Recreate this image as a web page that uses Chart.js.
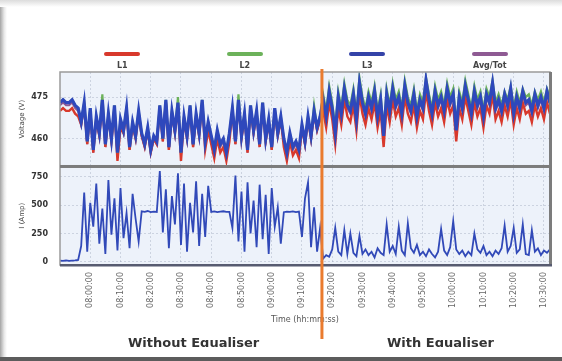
<!DOCTYPE html>
<html>
<head>
<meta charset="utf-8">
<script src="https://cdn.jsdelivr.net/npm/chart.js@4.4.1/dist/chart.umd.min.js"></script>
<style>
  html, body { margin: 0; padding: 0; background: #fff; }
  #wrap { position: relative; width: 562px; height: 361px; overflow: hidden; background: #fff;
          font-family: "DejaVu Sans", "Liberation Sans", sans-serif; }
  #cv { position: absolute; left: 0; top: 0; }
  .edgeTop { position: absolute; left: 0; top: 0; width: 562px; height: 7px;
             background: linear-gradient(#dcdcdc, #fff); }
  .edgeLeft { position: absolute; left: 0; top: 7px; width: 7px; height: 354px;
              background: linear-gradient(90deg, #a4a4a4, #e8e8e8 60%, #fff); }
  .edgeBottom { position: absolute; left: 0; bottom: 0; width: 562px; height: 4px; background: #5c5c5c; }
  #legend { position: absolute; left: 61px; top: 52px; width: 490px; display: flex; }
  .item { flex: 1; display: flex; flex-direction: column; align-items: center; }
  .swatch { width: 36px; height: 4px; border-radius: 2px; }
  .lab { margin-top: 5px; font-size: 8px; font-weight: bold; color: #444; line-height: 9px; }
  .eqClip { position: absolute; top: 335px; height: 12px; overflow: hidden; }
  .eq { font-size: 13px; font-weight: bold; color: #333; white-space: nowrap; line-height: 16px; }
</style>
</head>
<body>
<div id="wrap">
  <canvas id="cv" width="562" height="361"></canvas>
  <div class="edgeTop"></div>
  <div class="edgeLeft"></div>
  <div id="legend"></div>
  <div class="eqClip" style="left:128px;width:140px;"><div class="eq">Without Equaliser</div></div>
  <div class="eqClip" style="left:387px;width:115px;"><div class="eq">With Equaliser</div></div>
  <div class="edgeBottom"></div>
</div>
<script>
// Logging run: one sample per minute from the start time
const startTime = '07:50:00';
const equaliserOn = '09:16:36';

const timeTicks = ['08:00:00','08:10:00','08:20:00','08:30:00','08:40:00','08:50:00','09:00:00','09:10:00',
                   '09:20:00','09:30:00','09:40:00','09:50:00','10:00:00','10:10:00','10:20:00','10:30:00'];
const voltTicks = [460, 475];
const ampTicks = [0, 250, 500, 750];

const seriesNames = ['L1', 'L2', 'L3', 'Avg/Tot'];
const seriesColors = ['#d8392c', '#6cb25a', '#3443a8', '#8e5a93'];

// Phase voltages (V)
const voltL1 = [
  470,471,470,470,471,469,468,
  465,472,458,470,455,467,461,473,457,468,459,471,452,464,462,470,456,465,460,469,
  461,457,463,455,460,458,
  471,459,473,456,469,462,472,452,467,460,471,457,468,461,473,456,463,
  458,453,460,455,457,452,459,
  470,458,473,460,468,455,471,462,469,457,472,459,466,456,470,461,467,
  457,452,459,454,456,453,
  464,458,467,460,469,463,467,
  470,464,473,467,458,471,465,474,468,466,
  472,463,476,469,465,471,467,473,464,470,
  457,472,466,474,468,471,465,475,469,466,
  472,464,470,467,477,470,465,473,468,471,
  466,474,469,472,459,471,467,475,470,465,
  473,468,471,464,472,469,476,467,470,466,
  472,468,474,465,471,467,473,469,470,466,
  472,468,471,467,473,469
];
const voltL2 = [
  473,474,473,473,474,472,471,
  466,473,459,471,456,468,462,476,458,469,460,472,455,467,463,471,457,466,461,470,
  462,458,464,456,461,459,
  472,460,474,457,470,463,475,455,468,461,472,458,469,462,474,459,466,
  461,456,463,458,460,455,462,
  471,459,476,461,469,456,472,463,470,458,473,460,467,457,471,462,468,
  460,455,462,457,459,456,
  465,459,468,461,472,464,468,
  476,470,479,473,464,477,471,480,474,472,
  478,469,482,475,471,477,473,479,470,476,
  463,478,472,480,474,477,471,481,475,472,
  478,470,476,473,482,476,471,479,474,477,
  472,480,475,478,465,477,473,481,476,471,
  479,474,477,470,478,475,481,473,476,472,
  477,474,479,471,477,473,478,475,476,472,
  477,474,477,473,478,475
];
const voltL3 = [
  473,474,473,473,474,472,471,
  466,473,459,471,456,468,462,474,458,469,460,472,455,467,463,471,457,466,461,470,
  462,458,464,456,461,459,
  472,460,474,457,470,463,473,455,468,461,472,458,469,462,474,459,466,
  461,456,463,458,460,455,462,
  471,459,474,461,469,456,472,463,470,458,473,460,467,457,471,462,468,
  460,455,462,457,459,456,
  465,459,468,461,470,464,468,
  474,468,477,471,462,475,469,478,472,470,
  476,467,480,473,469,475,471,477,468,474,
  461,476,470,478,472,475,469,479,473,470,
  476,468,474,471,481,474,469,477,472,475,
  470,478,473,476,463,475,471,479,474,469,
  477,472,475,468,476,473,480,471,474,470,
  476,472,478,469,475,471,477,473,474,470,
  476,472,475,471,477,473
];
const voltAvg = [
  472,473,472,472,473,471,470,
  465,472,458,470,455,467,461,473,457,468,459,471,454,466,462,470,456,465,460,469,
  461,457,463,455,460,458,
  471,459,473,456,469,462,472,454,467,460,471,457,468,461,473,458,465,
  460,455,462,457,459,454,461,
  470,458,473,460,468,455,471,462,469,457,472,459,466,456,470,461,467,
  459,454,461,456,458,455,
  464,458,467,460,469,463,467,
  473,467,476,470,461,474,468,477,471,469,
  475,466,479,472,468,474,470,476,467,473,
  460,475,469,477,471,474,468,478,472,469,
  475,467,473,470,480,473,468,476,471,474,
  469,477,472,475,462,474,470,478,473,468,
  476,471,474,467,475,472,479,470,473,469,
  475,471,477,468,474,470,476,472,473,469,
  475,471,474,470,476,472
];

// Total current (A)
const ampTot = [
  12,10,14,9,11,13,18,
  140,610,90,520,310,690,160,470,70,720,240,560,100,650,210,430,120,600,380,180,
  445,440,448,438,442,440,
  800,260,640,120,580,330,780,150,690,90,520,260,710,140,600,220,670,
  440,444,438,442,446,440,441,
  300,760,180,620,90,700,250,540,130,680,200,590,70,650,310,480,160,
  438,442,440,445,439,443,
  220,560,700,130,480,90,300,
  30,60,45,110,300,90,60,280,70,250,
  80,50,230,70,110,60,90,40,120,80,
  60,330,90,140,70,310,100,60,340,120,
  80,150,60,90,50,110,70,40,90,290,
  100,60,130,360,110,70,100,50,90,60,
  250,110,80,140,60,90,50,100,70,120,
  320,90,140,300,80,110,330,70,60,280,
  90,120,60,100,80,110
];

// ---- helpers ----
const toMinutes = s => { const [h, m, sec] = s.split(':').map(Number); return h * 60 + m + (sec || 0) / 60; };
const pad = n => String(n).padStart(2, '0');
const fmtTime = v => {
  const tot = Math.round(v * 60);
  return pad(Math.floor(tot / 3600)) + ':' + pad(Math.floor(tot / 60) % 60) + ':' + pad(tot % 60);
};
const t0 = toMinutes(startTime);
const asPoints = arr => arr.map((y, i) => ({ x: t0 + i, y }));
const switchMinute = toMinutes(equaliserOn);

// legend
const legendEl = document.getElementById('legend');
seriesNames.forEach((name, i) => {
  const it = document.createElement('div');
  it.className = 'item';
  it.innerHTML = '<div class="swatch" style="background:' + seriesColors[i] + '"></div><div class="lab">' + name + '</div>';
  legendEl.appendChild(it);
});

const panelDecor = {
  id: 'panelDecor',
  beforeDraw(c) {
    const { ctx, chartArea: a } = c;
    ctx.save();
    ctx.fillStyle = '#edf2fa';
    ctx.fillRect(a.left, a.top, a.width, a.height);
    ctx.restore();
  },
  afterDatasetsDraw(c) {
    const { ctx, chartArea: a, scales } = c;
    ctx.save();
    ctx.strokeStyle = '#9a9a9a';
    ctx.lineWidth = 1.5;
    ctx.strokeRect(a.left, a.top, a.width, a.height);
    ctx.fillStyle = '#7c7c7c';
    ctx.fillRect(a.left, scales.yV.bottom - 1.5, a.width, 3);
    ctx.fillRect(a.right - 1, a.top, 3, a.height);
    ctx.fillStyle = '#575b70';
    ctx.fillRect(a.left, a.bottom - 1, a.width + 2, 2.5);
    const x = scales.x.getPixelForValue(switchMinute);
    ctx.fillStyle = '#ea7b2e';
    ctx.fillRect(x - 1.5, a.top - 3, 3, 342 - a.top);
    ctx.restore();
  }
};

const gridStyle = { color: 'rgba(130,140,165,0.3)', lineWidth: 1, drawTicks: false };
const dashed = { border: { display: false, dash: [2, 2] } };

new Chart(document.getElementById('cv'), {
  type: 'line',
  data: {
    datasets: [
      { label: 'Tot', data: asPoints(ampTot), yAxisID: 'yI', borderColor: '#3149b8', borderWidth: 1.8, order: 1 },
      { label: 'Avg', data: asPoints(voltAvg), yAxisID: 'yV', borderColor: seriesColors[3], borderWidth: 2, order: 6 },
      { label: 'L1', data: asPoints(voltL1), yAxisID: 'yV', borderColor: seriesColors[0], borderWidth: 2.4, order: 5 },
      { label: 'L2', data: asPoints(voltL2), yAxisID: 'yV', borderColor: seriesColors[1], borderWidth: 2.2, order: 4 },
      { label: 'L3', data: asPoints(voltL3), yAxisID: 'yV', borderColor: '#2e48bc', borderWidth: 3.2, order: 2 }
    ]
  },
  options: {
    responsive: false,
    animation: false,
    layout: { padding: { left: 12, right: 12, top: 72, bottom: 34 } },
    elements: { point: { radius: 0 }, line: { tension: 0 } },
    plugins: { legend: { display: false }, tooltip: { enabled: false } },
    scales: {
      x: {
        type: 'linear',
        min: t0,
        max: t0 + ampTot.length - 1,
        afterBuildTicks: s => { s.ticks = timeTicks.map(t => ({ value: toMinutes(t) })); },
        afterFit: s => { s.height = 62; },
        ticks: { minRotation: 90, maxRotation: 90, padding: 7, autoSkip: false,
                 font: { size: 8, family: 'DejaVu Sans' }, color: '#666',
                 callback: v => fmtTime(v) },
        grid: { ...gridStyle },
        border: { display: false, dash: [2, 2] },
        title: { display: true, text: 'Time (hh:mm:ss)', color: '#555',
                 font: { size: 8, family: 'DejaVu Sans' }, padding: { top: 0, bottom: 2 } }
      },
      yI: {
        type: 'linear', position: 'left', stack: 'panels', stackWeight: 98,
        min: -27, max: 840,
        afterBuildTicks: s => { s.ticks = ampTicks.map(v => ({ value: v })); },
        afterFit: s => { s.width = 48; },
        ticks: { padding: 12, font: { size: 8, weight: 'bold', family: 'DejaVu Sans' }, color: '#333' },
        grid: { ...gridStyle },
        ...dashed,
        title: { display: true, text: 'I (Amp)', color: '#444', font: { size: 7, family: 'DejaVu Sans' }, padding: { top: 6, bottom: 0 } }
      },
      yV: {
        type: 'linear', position: 'left', stack: 'panels', stackWeight: 94,
        min: 450, max: 484,
        afterBuildTicks: s => { s.ticks = voltTicks.map(v => ({ value: v })); },
        afterFit: s => { s.width = 48; },
        ticks: { padding: 12, font: { size: 8, weight: 'bold', family: 'DejaVu Sans' }, color: '#333' },
        grid: { ...gridStyle },
        ...dashed,
        title: { display: true, text: 'Voltage (V)', color: '#444', font: { size: 7, family: 'DejaVu Sans' }, padding: { top: 6, bottom: 0 } }
      }
    }
  },
  plugins: [panelDecor]
});
</script>
</body>
</html>
